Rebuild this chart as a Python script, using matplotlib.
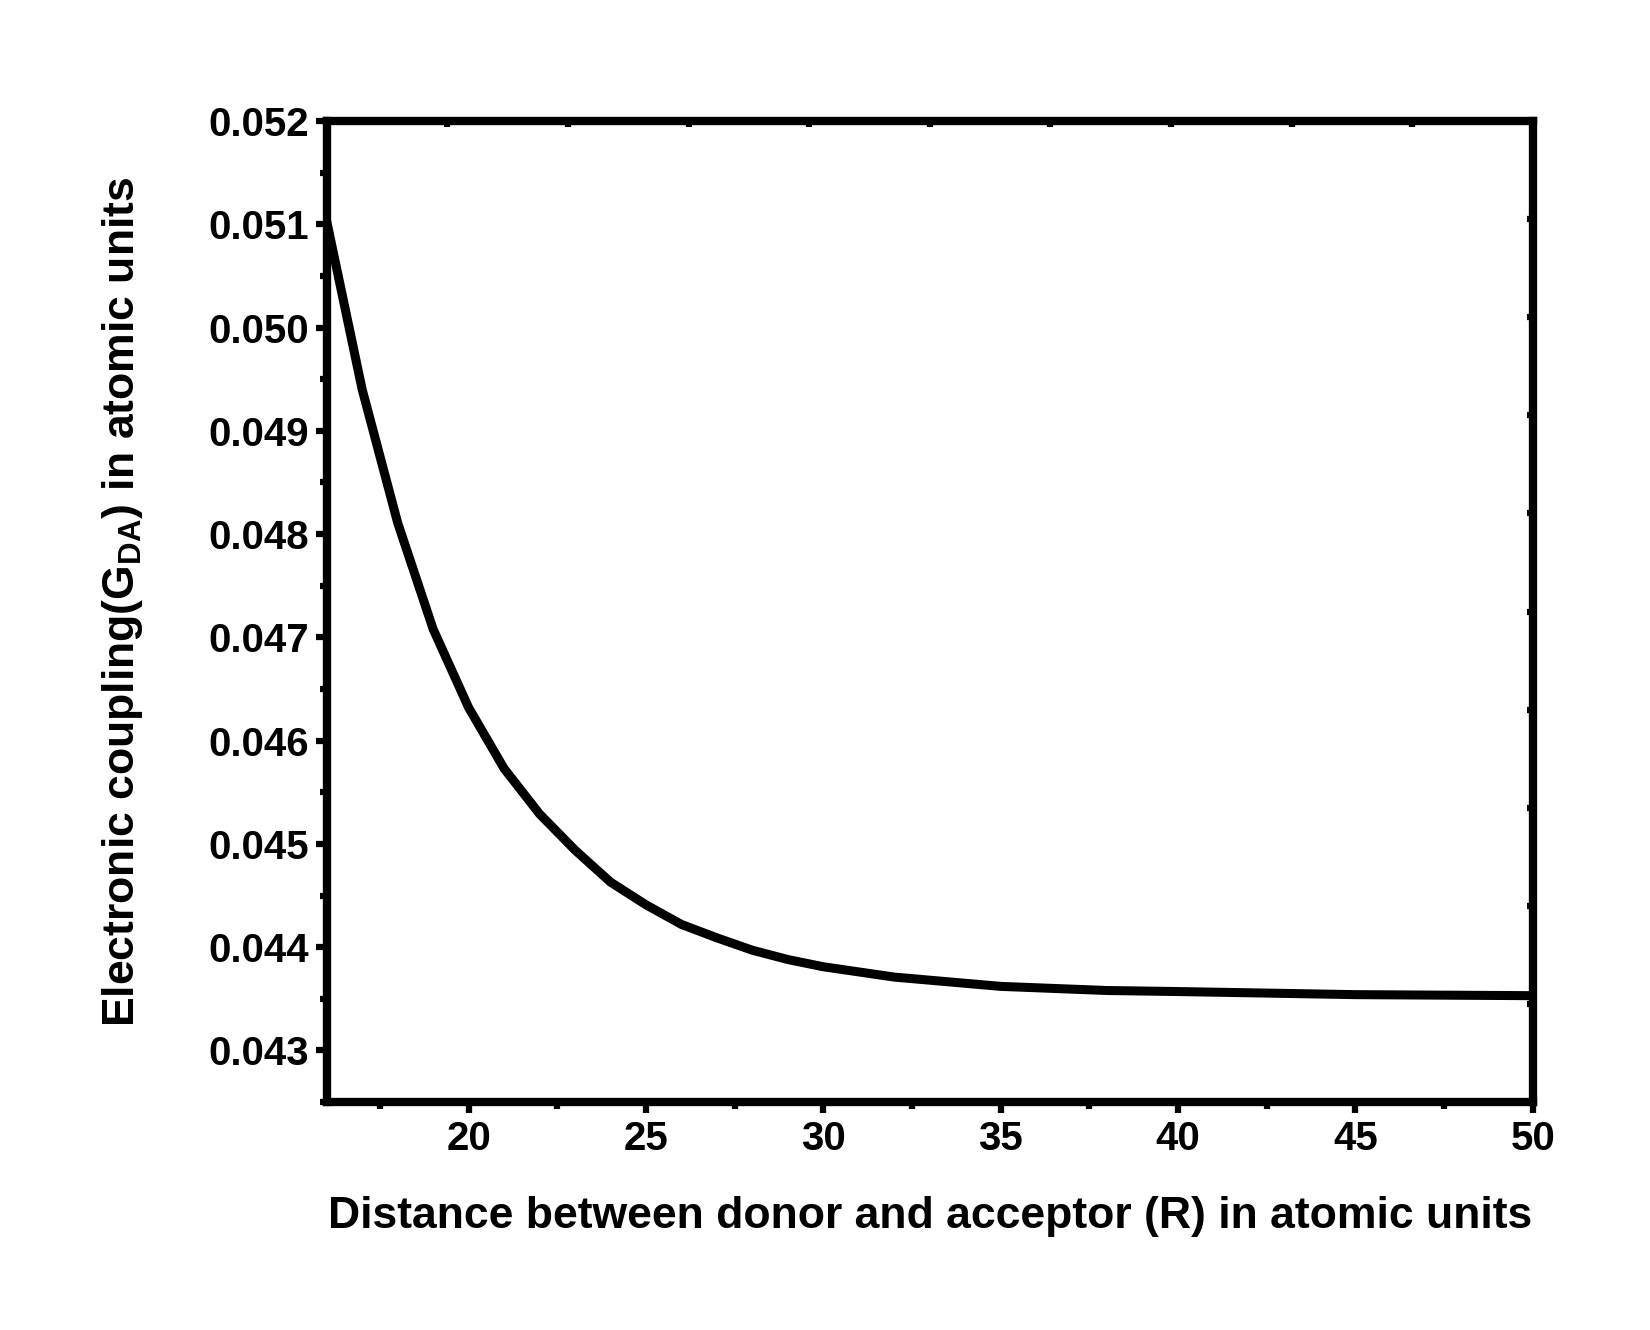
import matplotlib
matplotlib.use('Agg')
import numpy as np
import matplotlib.pyplot as plt
from matplotlib.ticker import MultipleLocator, FormatStrFormatter, FixedLocator

# distance R (a.u.) and coupling G_DA (a.u.)
distance = [16, 17, 18, 19, 20, 21, 22, 23, 24, 25, 26, 27, 28, 29, 30,
            32, 35, 38, 40, 45, 50]
coupling = [0.05103, 0.04940, 0.04811, 0.04708, 0.04632, 0.04573, 0.04529,
            0.04494, 0.04463, 0.04441, 0.04422, 0.04409, 0.04397, 0.04388,
            0.04381, 0.04371, 0.04362, 0.04358, 0.04357, 0.04354, 0.04353]

xlim = (16, 50)
ylim = (0.0425, 0.052)

plt.rcParams['font.family'] = 'Liberation Sans'
plt.rcParams['font.weight'] = 'bold'
plt.rcParams['mathtext.fontset'] = 'custom'
plt.rcParams['mathtext.bf'] = 'Liberation Sans:bold'
plt.rcParams['mathtext.rm'] = 'Liberation Sans:bold'

fig = plt.figure(figsize=(16.5, 13.3), dpi=100)
ax = fig.add_axes([0.198, 0.1714, 0.731, 0.7376])

ax.plot(distance, coupling, color='black', lw=6.5, solid_capstyle='round')

ax.set_xlim(*xlim)
ax.set_ylim(*ylim)
ax.xaxis.set_major_locator(MultipleLocator(5))
ax.xaxis.set_minor_locator(MultipleLocator(2.5))
ax.yaxis.set_major_locator(MultipleLocator(0.001))
ax.yaxis.set_minor_locator(MultipleLocator(0.0005))
ax.yaxis.set_major_formatter(FormatStrFormatter('%.3f'))

for s in ax.spines.values():
    s.set_linewidth(6)

ax.tick_params(which='major', direction='out', length=8, width=4.5,
               labelsize=29, pad=5)
ax.tick_params(which='minor', direction='out', length=5, width=4.5)
ax.tick_params(which='both', top=False, right=False)

# Origin-style stubs on top/right: 10 equal divisions of the range
sec_x = ax.secondary_xaxis('top')
sec_x.xaxis.set_major_locator(FixedLocator(np.linspace(*xlim, 11)[1:-1]))
sec_x.tick_params(direction='in', length=4, width=4.5, labeltop=False)
sec_x.spines['top'].set_visible(False)
sec_y = ax.secondary_yaxis('right')
sec_y.yaxis.set_major_locator(FixedLocator(np.linspace(*ylim, 11)[1:-1]))
sec_y.tick_params(direction='in', length=4, width=4.5, labelright=False)
sec_y.spines['right'].set_visible(False)

for lab in ax.get_xticklabels() + ax.get_yticklabels():
    lab.set_fontweight('bold')

ax.set_xlabel('Distance between donor and acceptor (R) in atomic units',
              fontsize=32, fontweight='bold', labelpad=27)
ax.set_ylabel(r'Electronic coupling(G$_{\mathbf{DA}}$) in atomic units',
              fontsize=32, fontweight='bold')
ax.yaxis.set_label_coords(-0.151, 0.51)

fig.savefig('out.png', dpi=100, facecolor='white')
